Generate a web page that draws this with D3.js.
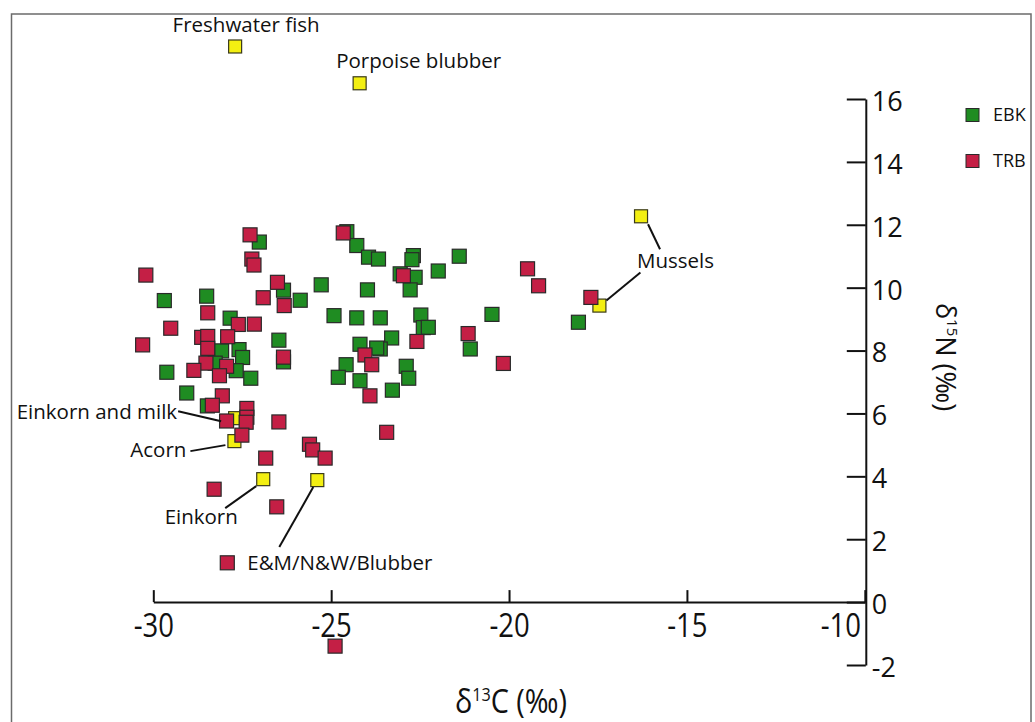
<!DOCTYPE html>
<html>
<head>
<meta charset="utf-8">
<script src="https://cdn.jsdelivr.net/npm/d3@7"></script>
<style>
  body { margin: 0; background: #fff; }
  svg { display: block; }
</style>
</head>
<body>
<svg id="chart" width="1035" height="722"></svg>
<script>
// Axis ticks
const xTicks = [-30, -25, -20, -15, -10];
const yTicks = [-2, 0, 2, 4, 6, 8, 10, 12, 14, 16];

// Human bone collagen, [δ13C, δ15N] in ‰
const ebk = [
  [-27.02, 11.45], [-29.69, 9.59], [-28.50, 9.73], [-26.34, 9.92], [-25.87, 9.60],
  [-25.28, 10.09], [-24.92, 9.11], [-27.84, 9.03], [-28.08, 7.99], [-27.59, 8.03],
  [-27.49, 7.78], [-26.47, 8.33], [-26.34, 7.64], [-28.26, 7.60], [-27.67, 7.36],
  [-27.26, 7.12], [-29.62, 7.31], [-29.06, 6.65], [-28.48, 6.24], [-24.56, 11.78],
  [-24.28, 11.34], [-23.95, 10.97], [-23.67, 10.91], [-22.69, 11.02], [-22.73, 10.89],
  [-21.40, 11.00], [-21.99, 10.53], [-23.06, 10.44], [-22.64, 10.33], [-22.78, 9.93],
  [-23.98, 9.93], [-24.28, 9.04], [-23.62, 9.04], [-22.48, 9.13], [-22.41, 8.73],
  [-22.27, 8.74], [-20.48, 9.15], [-21.09, 8.05], [-23.30, 8.40], [-24.19, 8.20],
  [-23.62, 8.05], [-23.72, 8.08], [-24.58, 7.55], [-24.80, 7.15], [-24.19, 7.04],
  [-23.28, 6.74], [-22.89, 7.50], [-22.82, 7.12], [-18.05, 8.90]
];

const trb = [
  [-27.28, 11.68], [-27.23, 10.91], [-27.17, 10.72], [-30.21, 10.40], [-28.47, 9.20],
  [-26.51, 10.17], [-26.91, 9.68], [-26.32, 9.43], [-29.51, 8.71], [-30.30, 8.18],
  [-27.61, 8.83], [-27.16, 8.84], [-28.64, 8.42], [-28.47, 8.45], [-27.91, 8.44],
  [-28.47, 8.07], [-26.34, 7.79], [-28.52, 7.60], [-27.94, 7.50], [-28.86, 7.37],
  [-28.14, 7.20], [-28.06, 6.56], [-28.34, 6.26], [-27.37, 6.16], [-27.37, 5.88],
  [-27.39, 5.72], [-27.94, 5.76], [-26.47, 5.73], [-27.51, 5.31], [-25.61, 5.02],
  [-25.52, 4.84], [-25.17, 4.58], [-26.84, 4.58], [-28.29, 3.59], [-26.53, 3.03],
  [-27.92, 1.25], [-24.89, -1.40], [-24.66, 11.74], [-22.97, 10.38], [-19.48, 10.60],
  [-19.17, 10.06], [-21.15, 8.54], [-22.59, 8.29], [-24.05, 7.86], [-23.86, 7.55],
  [-23.91, 6.56], [-23.44, 5.40], [-20.16, 7.59], [-17.70, 9.69]
];

// Food sources
const foodNames = ["Freshwater fish", "Porpoise blubber", "Mussels", "Mussels",
                   "Einkorn and milk", "Acorn", "Einkorn", "E&M/N&W/Blubber"];
const foodD13C = [-27.70, -24.20, -16.29, -17.46, -27.70, -27.72, -26.91, -25.39];
const foodD15N = [17.67, 16.50, 12.27, 9.43, 5.85, 5.12, 3.91, 3.88];

const seriesNames = ["EBK", "TRB"];
const seriesColors = ["#1f8c22", "#c41f45"];
const foodColor = "#f3ef12";

// Annotation layout: pixel offsets from the referenced food marker
const foodLabels = [
  { ref: 0, dx: 11,  dy: -22, anchor: "middle" },
  { ref: 1, dx: 59,  dy: -22, anchor: "middle" },
  { ref: 2, dx: -4,  dy: 45,  anchor: "start" },
  { ref: 4, dx: -58, dy: -6,  anchor: "end" },
  { ref: 5, dx: -48, dy: 9,   anchor: "end" },
  { ref: 6, dx: -62, dy: 38,  anchor: "middle" },
  { ref: 7, dx: -70, dy: 83,  anchor: "start" }
];
const leaders = [
  { ref: 2, a: [7, 8],    b: [19, 33] },
  { ref: 3, a: [7, -5],   b: [41, -33] },
  { ref: 4, a: [-57, -7], b: [-14, 3] },
  { ref: 5, a: [-44, 10], b: [-9, 4] },
  { ref: 6, a: [-38, 29], b: [-7, 7] },
  { ref: 7, a: [-4, 7],   b: [-38, 67] }
];

const svg = d3.select("#chart");
const humanist = "'Open Sans', 'Liberation Sans', sans-serif";

const x = d3.scaleLinear().domain([-30, -10]).range([153.3, 864.8]);
const y = d3.scaleLinear().domain([-2, 16]).range([665, 99]);

// x axis (ticks pointing up into the plot)
const xAxis = svg.append("g")
  .attr("transform", `translate(0,${y(0)})`)
  .call(d3.axisBottom(x).tickValues(xTicks).tickSizeInner(-12).tickSizeOuter(0).tickPadding(12)
        .tickFormat(d => String(d)));
xAxis.select(".domain").attr("stroke", "#111").attr("stroke-width", 2);
xAxis.selectAll(".tick line").attr("stroke", "#111").attr("stroke-width", 2);
// narrowed numerals on the horizontal axis
xAxis.selectAll(".tick text")
  .attr("font-family", humanist).attr("font-size", 32).attr("fill", "#111")
  .attr("transform", "scale(0.86,1)");
xAxis.selectAll(".tick").filter(d => d === -10).select("text")
  .attr("text-anchor", "end").attr("x", -5);

// y axis on the right, ticks pointing left
const yAxis = svg.append("g")
  .attr("transform", `translate(${x(-10) + 1},0)`)
  .call(d3.axisRight(y).tickValues(yTicks).tickSizeInner(-19).tickSizeOuter(0).tickPadding(6)
        .tickFormat(d => String(d)));
yAxis.select(".domain").attr("stroke", "#111").attr("stroke-width", 2);
yAxis.selectAll(".tick line").attr("stroke", "#111").attr("stroke-width", 2);
yAxis.selectAll(".tick text")
  .attr("font-family", humanist).attr("font-size", 27).attr("fill", "#111")
  .attr("dy", "0.42em");

// Axis titles
const xt = svg.append("text")
  .attr("transform", "translate(511,713) scale(0.9,1)").attr("text-anchor", "middle")
  .attr("font-family", humanist).attr("font-size", 32).attr("fill", "#111");
xt.append("tspan").text("δ");
xt.append("tspan").attr("font-size", 18).attr("dy", -12).text("13");
xt.append("tspan").attr("dy", 12).text("C (‰)");

const yt = svg.append("text")
  .attr("transform", "translate(936,357) rotate(90)").attr("text-anchor", "middle")
  .attr("font-family", humanist).attr("font-size", 27).attr("fill", "#111");
yt.append("tspan").text("δ");
yt.append("tspan").attr("font-size", 15).attr("dy", -11).text("15");
yt.append("tspan").attr("dy", 11).text("N (‰)");

// Markers: food sources underneath, then the two human groups
const foods = foodNames.map((n, i) => ({ name: n, c: foodD13C[i], n15: foodD15N[i] }));

svg.append("g").selectAll("rect").data(foods).join("rect")
  .attr("x", d => x(d.c) - 6.5).attr("y", d => y(d.n15) - 6.5)
  .attr("width", 13).attr("height", 13)
  .attr("fill", foodColor).attr("stroke", "#3a3a1a").attr("stroke-width", 1.2);

[ebk, trb].forEach((pts, s) => {
  svg.append("g").selectAll("rect").data(pts).join("rect")
    .attr("x", d => x(d[0]) - 7).attr("y", d => y(d[1]) - 7)
    .attr("width", 14).attr("height", 14)
    .attr("fill", seriesColors[s]).attr("stroke", "#2a2a2a").attr("stroke-width", 1.2);
});

// Leader lines and food labels
svg.append("g").selectAll("line").data(leaders).join("line")
  .attr("x1", d => x(foods[d.ref].c) + d.a[0]).attr("y1", d => y(foods[d.ref].n15) + d.a[1])
  .attr("x2", d => x(foods[d.ref].c) + d.b[0]).attr("y2", d => y(foods[d.ref].n15) + d.b[1])
  .attr("stroke", "#111").attr("stroke-width", 2);

svg.append("g").selectAll("text").data(foodLabels).join("text")
  .attr("x", d => x(foods[d.ref].c) + d.dx).attr("y", d => y(foods[d.ref].n15) + d.dy)
  .attr("dy", "0.35em").attr("text-anchor", d => d.anchor)
  .attr("font-family", humanist).attr("font-size", 20.5).attr("fill", "#111")
  .text(d => foods[d.ref].name);

// Legend
const legend = svg.append("g");
seriesNames.forEach((name, i) => {
  const ly = 115 + i * 46;
  legend.append("rect").attr("x", 966).attr("y", ly - 6.5).attr("width", 13).attr("height", 13)
    .attr("fill", seriesColors[i]).attr("stroke", "#2a2a2a").attr("stroke-width", 1);
  legend.append("text").attr("x", 993).attr("y", ly).attr("dy", "0.35em")
    .attr("font-family", humanist).attr("font-size", 18).attr("fill", "#111").text(name);
});

// Figure frame
svg.append("rect").attr("x", 11.5).attr("y", 14).attr("width", 1019.5).attr("height", 740)
  .attr("fill", "none").attr("stroke", "#6b6b6b").attr("stroke-width", 1.5);
</script>
</body>
</html>
